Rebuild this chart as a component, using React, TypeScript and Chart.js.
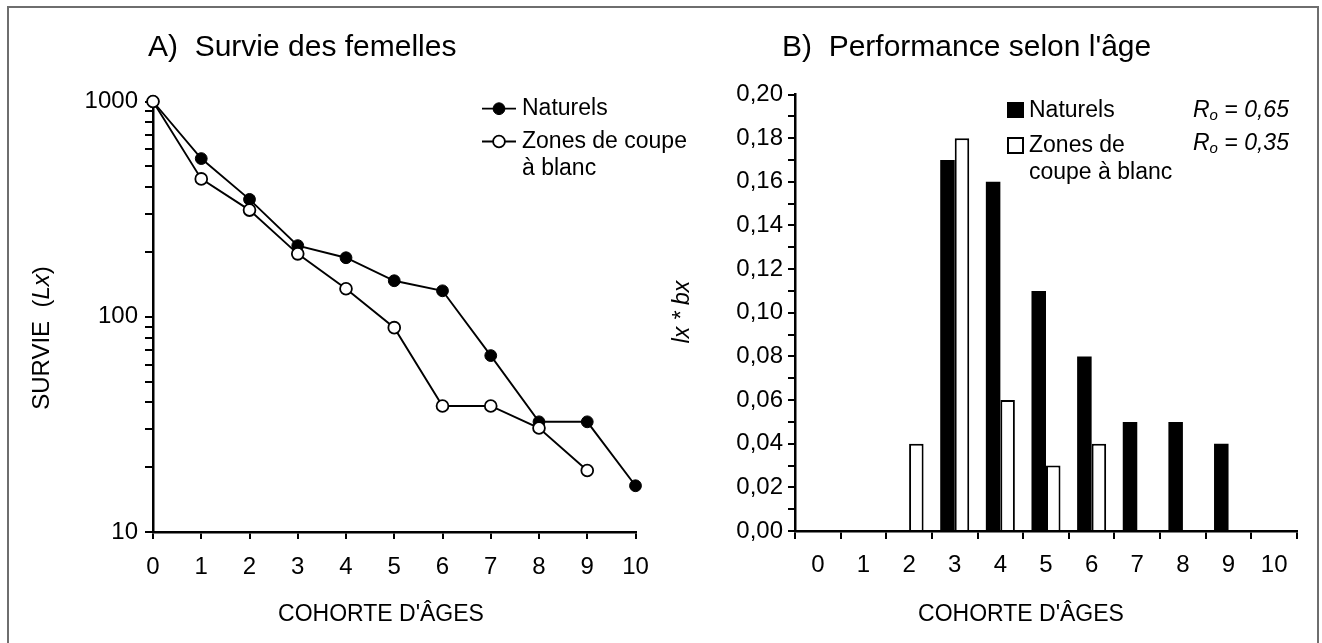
import React, { useEffect, useRef } from 'react';
import { Chart, registerables } from 'chart.js';

Chart.register(...registerables);

// ---------------- data ----------------
const AGES = ['0', '1', '2', '3', '4', '5', '6', '7', '8', '9', '10'];

// Panel A : survie (Lx), log scale
const SURVIE_NATURELS = [1000, 543, 351, 214, 188, 147, 132, 66, 32.5, 32.5, 16.4];
const SURVIE_COUPE = [1000, 437, 313, 196, 135, 89, 38.5, 38.5, 30.4, 19.3, null];
const LOG_TICKS = [10, 20, 30, 40, 50, 60, 70, 80, 90, 100, 200, 300, 400, 500, 600, 700, 800, 900, 1000];
const LOG_LABELS = ['10', '', '', '', '', '', '', '', '', '100', '', '', '', '', '', '', '', '', '1000'];

// Panel B : lx * bx
const PERF_NATURELS = [null, null, null, 0.17, 0.16, 0.11, 0.08, 0.05, 0.05, 0.04, null];
const PERF_COUPE = [null, null, 0.04, 0.18, 0.06, 0.03, 0.04, null, null, null, null];
const PERF_TICKS = [0, 0.01, 0.02, 0.03, 0.04, 0.05, 0.06, 0.07, 0.08, 0.09, 0.1, 0.11, 0.12, 0.13, 0.14, 0.15, 0.16, 0.17, 0.18, 0.19, 0.2];
const PERF_LABELS = ['0,00', '', '0,02', '', '0,04', '', '0,06', '', '0,08', '', '0,10', '', '0,12', '', '0,14', '', '0,16', '', '0,18', '', '0,20'];

const SERIES_NAMES = ['Naturels', 'Zones de coupe à blanc'];
const RO_VALUES = ['0,65', '0,35'];

// ---------------- styling ----------------
const FONT = '"Liberation Sans", Arial, Helvetica, sans-serif';
const W = 1322;
const H = 643;
const POINT_R = 5.9;

Chart.defaults.font.family = FONT;
Chart.defaults.color = '#000';

function fontStr(size: number, italic = false) {
  return `${italic ? 'italic ' : ''}${size}px ${FONT}`;
}

function drawMixed(ctx: CanvasRenderingContext2D, parts: { t: string; it?: boolean }[], size: number, cx: number, cy: number) {
  let total = 0;
  for (const p of parts) {
    ctx.font = fontStr(size, !!p.it);
    total += ctx.measureText(p.t).width;
  }
  let x = cx - total / 2;
  ctx.textAlign = 'left';
  ctx.textBaseline = 'middle';
  for (const p of parts) {
    ctx.font = fontStr(size, !!p.it);
    ctx.fillText(p.t, x, cy);
    x += ctx.measureText(p.t).width;
  }
}

const panelAText = {
  id: 'panelAText',
  afterDraw(chart: any) {
    const ctx: CanvasRenderingContext2D = chart.ctx;
    ctx.save();
    ctx.fillStyle = '#000';
    ctx.strokeStyle = '#000';
    // title
    ctx.font = fontStr(30);
    ctx.textAlign = 'left';
    ctx.textBaseline = 'middle';
    ctx.fillText('A)  Survie des femelles', 148, 48);
    // x title
    ctx.font = fontStr(23);
    ctx.textAlign = 'center';
    ctx.fillText("COHORTE D'ÂGES", 381, 615);
    // y title
    ctx.save();
    ctx.translate(42, 338);
    ctx.rotate(-Math.PI / 2);
    drawMixed(ctx, [{ t: 'SURVIE  (' }, { t: 'Lx', it: true }, { t: ')' }], 24, 0, 0);
    ctx.restore();
    // legend
    const rows = [108.7, 141.5];
    const fills = ['#000', '#fff'];
    rows.forEach((y, i) => {
      ctx.lineWidth = 1.8;
      ctx.beginPath();
      ctx.moveTo(482, y);
      ctx.lineTo(516, y);
      ctx.stroke();
      ctx.beginPath();
      ctx.arc(499, y, POINT_R, 0, Math.PI * 2);
      ctx.fillStyle = fills[i];
      ctx.fill();
      ctx.lineWidth = i === 0 ? 1 : 1.8;
      ctx.stroke();
    });
    ctx.fillStyle = '#000';
    ctx.font = fontStr(23);
    ctx.textAlign = 'left';
    ctx.textBaseline = 'middle';
    ctx.fillText(SERIES_NAMES[0], 522, rows[0]);
    ctx.fillText('Zones de coupe', 522, rows[1]);
    ctx.fillText('à blanc', 522, 168.5);
    ctx.restore();
  },
};

const panelBText = {
  id: 'panelBText',
  afterDraw(chart: any) {
    const ctx: CanvasRenderingContext2D = chart.ctx;
    ctx.save();
    ctx.fillStyle = '#000';
    ctx.strokeStyle = '#000';
    ctx.font = fontStr(30);
    ctx.textAlign = 'left';
    ctx.textBaseline = 'middle';
    ctx.fillText("B)  Performance selon l'âge", 782, 48);
    ctx.font = fontStr(23);
    ctx.textAlign = 'center';
    ctx.fillText("COHORTE D'ÂGES", 1021, 615);
    // y title
    ctx.save();
    ctx.translate(683, 312);
    ctx.rotate(-Math.PI / 2);
    drawMixed(ctx, [{ t: 'lx * bx', it: true }], 23, 0, 0);
    ctx.restore();
    // legend
    ctx.fillRect(1007, 102, 17, 16);
    ctx.lineWidth = 2;
    ctx.strokeRect(1008, 138, 15, 15);
    ctx.font = fontStr(23);
    ctx.textAlign = 'left';
    ctx.textBaseline = 'middle';
    ctx.fillText(SERIES_NAMES[0], 1029, 110.5);
    ctx.fillText('Zones de', 1029, 145.5);
    ctx.fillText('coupe à blanc', 1029, 173);
    // Ro values
    const roRows = [110.7, 143.5];
    roRows.forEach((y, i) => {
      let x = 1193;
      ctx.font = fontStr(23, true);
      ctx.fillText('R', x, y);
      x += ctx.measureText('R').width;
      ctx.font = fontStr(15, true);
      ctx.fillText('o', x, y + 5);
      x += ctx.measureText('o').width;
      ctx.font = fontStr(23, true);
      ctx.fillText(' = ' + RO_VALUES[i], x, y);
    });
    ctx.restore();
  },
};

const axisCommon = {
  grid: { drawOnChartArea: false, drawTicks: true, color: '#000', tickColor: '#000', lineWidth: 2 },
  border: { display: true, color: '#000', width: 2.5 },
};

export default function App() {
  const refA = useRef<HTMLCanvasElement>(null);
  const refB = useRef<HTMLCanvasElement>(null);

  useEffect(() => {
    const chartA = new Chart(refA.current!, {
      type: 'line',
      data: {
        labels: AGES,
        datasets: [
          {
            label: SERIES_NAMES[0],
            data: SURVIE_NATURELS,
            borderColor: '#000',
            borderWidth: 1.9,
            pointRadius: POINT_R,
            pointBackgroundColor: '#000',
            pointBorderColor: '#000',
            pointBorderWidth: 1,
            tension: 0,
            clip: false as any,
            order: 1,
          },
          {
            label: SERIES_NAMES[1],
            data: SURVIE_COUPE,
            borderColor: '#000',
            borderWidth: 1.9,
            pointRadius: POINT_R,
            pointBackgroundColor: '#fff',
            pointBorderColor: '#000',
            pointBorderWidth: 1.8,
            tension: 0,
            clip: false as any,
            order: 0,
          },
        ],
      },
      options: {
        animation: false,
        responsive: false,
        devicePixelRatio: 1,
        events: [],
        layout: { autoPadding: false, padding: { left: 0, top: 101.5, right: W - 635.5, bottom: 0 } },
        plugins: { legend: { display: false }, title: { display: false }, tooltip: { enabled: false } },
        scales: {
          x: {
            type: 'category',
            offset: false,
            ...axisCommon,
            grid: { ...axisCommon.grid, tickLength: 7 },
            ticks: { font: { size: 24 }, padding: 14, autoSkip: false, maxRotation: 0, color: '#000' },
            afterFit: (s: any) => { s.height = H - 532; },
          },
          y: {
            type: 'logarithmic',
            min: 10,
            max: 1000,
            ...axisCommon,
            grid: { ...axisCommon.grid, tickLength: 8 },
            afterBuildTicks: (s: any) => { s.ticks = LOG_TICKS.map((v) => ({ value: v })); },
            ticks: {
              font: { size: 24 },
              padding: 7,
              autoSkip: false,
              color: '#000',
              callback: (_v: any, i: number) => LOG_LABELS[i],
            },
            afterFit: (s: any) => { s.width = 153; },
          },
        },
      } as any,
      plugins: [panelAText],
    });

    const chartB = new Chart(refB.current!, {
      type: 'bar',
      data: {
        labels: AGES,
        datasets: [
          {
            label: SERIES_NAMES[0],
            data: PERF_NATURELS,
            backgroundColor: '#000',
            borderColor: '#000',
            borderWidth: 0,
            categoryPercentage: 0.636,
            barPercentage: 1,
          },
          {
            label: SERIES_NAMES[1],
            data: PERF_COUPE,
            backgroundColor: '#fff',
            borderColor: '#000',
            borderWidth: 2,
            categoryPercentage: 0.636,
            barPercentage: 1,
          },
        ],
      },
      options: {
        animation: false,
        responsive: false,
        devicePixelRatio: 1,
        events: [],
        layout: { autoPadding: false, padding: { left: 795 - 134, top: 94.5, right: W - 1297, bottom: 0 } },
        plugins: { legend: { display: false }, title: { display: false }, tooltip: { enabled: false } },
        scales: {
          x: {
            type: 'category',
            offset: true,
            ...axisCommon,
            grid: { ...axisCommon.grid, offset: true, tickLength: 8 },
            ticks: { font: { size: 24 }, padding: 12, autoSkip: false, maxRotation: 0, color: '#000' },
            afterFit: (s: any) => { s.height = H - 531; },
          },
          y: {
            type: 'linear',
            min: 0,
            max: 0.2,
            ...axisCommon,
            grid: { ...axisCommon.grid, tickLength: 7 },
            afterBuildTicks: (s: any) => { s.ticks = PERF_TICKS.map((v) => ({ value: v })); },
            ticks: {
              font: { size: 24 },
              padding: 5,
              autoSkip: false,
              color: '#000',
              callback: (_v: any, i: number) => PERF_LABELS[i],
            },
            afterFit: (s: any) => { s.width = 134; },
          },
        },
      } as any,
      plugins: [panelBText],
    });

    return () => {
      chartA.destroy();
      chartB.destroy();
    };
  }, []);

  return (
    <div style={{ position: 'absolute', left: 0, top: 0, width: W, height: H, overflow: 'hidden', background: '#fff' }}>
      <div
        style={{
          position: 'absolute',
          left: 7,
          top: 6,
          width: 1312,
          height: 700,
          boxSizing: 'border-box',
          border: '2px solid #6e6e6e',
        }}
      />
      <canvas ref={refA} width={W} height={H} style={{ position: 'absolute', left: 0, top: 0, width: W, height: H }} />
      <canvas ref={refB} width={W} height={H} style={{ position: 'absolute', left: 0, top: 0, width: W, height: H }} />
    </div>
  );
}
